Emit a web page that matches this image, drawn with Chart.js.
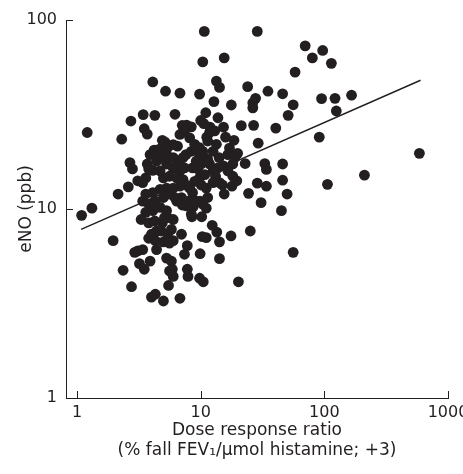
<!DOCTYPE html>
<html>
<head>
<meta charset="utf-8">
<script src="https://cdn.jsdelivr.net/npm/chart.js@4.4.0/dist/chart.umd.min.js"></script>
<style>
    html, body { margin: 0; padding: 0; background: #fff; }
</style>
</head>
<body>
<canvas id="enoScatter" width="463" height="474"></canvas>
<script>
    // dose response ratio (x) and eNO in ppb (y), one entry per subject
    var doseRatio = [
        10.7, 28.7, 70, 97, 80, 114, 58, 10.4, 15.5, 4.1, 13.4, 14.2, 5.2, 6.8, 9.8, 24, 35, 46, 27.8, 26.4,
        26.4, 12.8, 17.7, 56, 51, 95, 122, 166, 125, 91, 587, 211, 106, 56, 45, 50, 46, 46, 33, 34,
        34, 28.7, 30.8, 24.4, 25.2, 20.2, 40.5, 29.2, 26.8, 21.3, 22.9, 19.9, 18.9, 18.6, 18.2, 19.6, 17.9, 17.6, 14.2, 13.5,
        12.4, 14.2, 15.5, 10.5, 9.8, 9.9, 10.3, 11.1, 10.2, 11.1, 9.9, 8.5, 8.7, 7.8, 7.4, 7.8, 7.9, 6.8, 7.0, 5.0,
        4.0, 4.3, 5.5, 2.76, 2.36, 3.2, 3.5, 3.9, 1.96, 1.09, 1.32, 1.21, 2.15, 2.6, 2.3, 2.73, 3.43, 4.26, 6.2, 3.5,
        3.7, 2.68, 2.81, 3.1, 3.7, 7.1, 7.7, 8.4, 6.8, 6.5, 4.9, 5.15, 4.2, 4.4, 10, 10.6, 11, 13.8, 15.3, 11.9,
        13, 11.2, 13.4, 15.9, 14.1, 17.1, 16.6, 15.3, 13.8, 13.2, 14.2, 15, 12.6, 10.4, 9.8, 10.8, 9.2, 10.1, 9.5, 10.8,
        9.8, 8.95, 10.1, 8.15, 8.6, 8.0, 7.6, 7.0, 7.1, 6.4, 9.2, 8.4, 6.0, 5.4, 4.9, 5.8, 5.4, 6.0, 5.0, 5.6,
        4.0, 3.8, 4.3, 4.4, 5.3, 5.8, 5.9, 6.0, 3.4, 3.1, 3.9, 4.4, 4.8, 5.3, 6.0, 6.6, 7.2, 7.4, 6.8, 6.0,
        5.3, 4.7, 4.1, 3.6, 3.4, 5.0, 5.6, 6.4, 7.2, 7.6, 6.8, 6.0, 5.3, 4.7, 4.1, 3.6, 3.4, 3.8, 4.26, 5.0,
        5.6, 6.2, 4.7, 4.1, 3.6, 3.3, 3.8, 4.26, 5.3, 5.1, 4.4, 4.8, 3.8, 4.6, 5.0, 5.4, 6.0, 7.4, 8.15, 8.95,
        9.8, 8.4, 7.6, 12.6, 11.8, 12.6, 16.6, 18.2, 11.1, 11.4, 10.4, 11.8, 11.4, 11.4, 8.6, 2.93, 5.6
    ];
    var enoPpb = [
        87, 87, 73, 69, 63, 59, 53, 60, 63, 47, 47.5, 44, 42, 41, 40.5, 44.4, 42, 40.7, 38.5, 36.5,
        34.3, 37, 35.5, 35.6, 31.3, 38.4, 38.5, 40, 33, 24, 19.7, 15.1, 13.5, 5.9, 9.8, 12, 14.2, 17.3, 17.4, 16.2,
        13.2, 13.7, 10.8, 12.1, 7.65, 4.12, 26.8, 22.3, 27.7, 27.6, 17.4, 19.7, 18.7, 23.1, 17.3, 14.1, 13.2, 7.2, 6.7, 7.55,
        8.2, 5.46, 12, 4.12, 4.3, 5.8, 7.14, 7.05, 9.1, 10.1, 11, 9.1, 10.3, 6.4, 5.76, 4.8, 4.4, 3.37, 7.35, 3.26,
        3.42, 3.54, 3.94, 3.88, 4.74, 5.14, 4.8, 5.3, 6.8, 9.26, 10.1, 25.4, 12, 13.1, 23.4, 29.2, 31.6, 31.3, 31.7, 26.6,
        24.9, 17.6, 16.3, 14.1, 17.3, 27.7, 27.8, 27.2, 24.8, 21.5, 23.1, 22.6, 20.5, 19.5, 29.4, 28.3, 32.3, 30.4, 27.1, 27.1,
        25.9, 24, 22, 24, 18.7, 21, 19.4, 16.9, 16.5, 14.9, 13.8, 13.4, 13.8, 20.2, 19.1, 18.7, 17.9, 17.3, 16.3, 15.2,
        14.6, 14, 13.4, 12.9, 12.2, 11.0, 10.4, 11.5, 10.5, 11, 11, 9.4, 8.8, 9.0, 8.45, 7.8, 7.35, 6.8, 6.7, 6.6,
        7.35, 7.0, 6.8, 6.1, 5.5, 5.3, 4.8, 4.4, 6.1, 6.0, 19.4, 17.9, 18.7, 19.4, 18.7, 17.6, 18.7, 16.5, 15.9, 16.5,
        17.3, 15.9, 16, 14.6, 13.8, 14.6, 14.9, 14.6, 14.3, 13.4, 13.2, 12.9, 12.9, 12.7, 12.2, 12.0, 11.0, 10.6, 11.0, 11.5,
        12.0, 11.5, 10.2, 9.8, 9.6, 8.8, 8.45, 8.64, 9.8, 9.0, 7.65, 7.65, 16.3, 20.7, 21.9, 21.1, 21.9, 25.8, 23.8, 22,
        21.1, 20.2, 19.4, 20.2, 17.3, 15.9, 15.9, 14.9, 12.9, 11.5, 10.6, 25.4, 22.9, 18.3, 16.5, 5.9, 4.7
    ];

    // regression line end points
    var fitDose = [1.08, 600];
    var fitEno = [7.8, 48];

    var xTickValues = [1, 10, 100, 1000];
    var yTickValues = [1, 10, 100];

    var ink = '#231f20';
    var fontFamily = "'DejaVu Sans', 'Liberation Sans', sans-serif";

    function toPoints(xs, ys) {
        var pts = [];
        for (var i = 0; i < xs.length; i++) {
            pts.push({x: xs[i], y: ys[i]});
        }
        return pts;
    }

    // short tick marks pointing into the plot
    var innerTicks = {
        id: 'innerTicks',
        afterDraw: function (chart) {
            var ctx = chart.ctx;
            var xs = chart.scales.x;
            var ys = chart.scales.y;
            ctx.save();
            ctx.strokeStyle = ink;
            ctx.lineWidth = 1;
            ctx.beginPath();
            xTickValues.forEach(function (v) {
                var px = Math.round(xs.getPixelForValue(v)) + 0.5;
                ctx.moveTo(px, ys.bottom);
                ctx.lineTo(px, ys.bottom - 7);
            });
            yTickValues.forEach(function (v) {
                var py = Math.round(ys.getPixelForValue(v)) + 0.5;
                ctx.moveTo(xs.left, py);
                ctx.lineTo(xs.left + 7, py);
            });
            ctx.stroke();
            ctx.restore();
        }
    };

    var scatterCanvas = document.getElementById('enoScatter').getContext('2d');
    var enoChart = new Chart(scatterCanvas, {
        type: 'scatter',
        data: {
            datasets: [{
                data: toPoints(doseRatio, enoPpb),
                backgroundColor: ink,
                borderWidth: 0,
                pointRadius: 5.4,
                pointHoverRadius: 5.4
            }, {
                data: toPoints(fitDose, fitEno),
                showLine: true,
                borderColor: ink,
                borderWidth: 1.4,
                pointRadius: 0,
                fill: false
            }]
        },
        options: {
            responsive: false,
            animation: false,
            layout: {
                padding: {top: 20, right: 15, left: 0, bottom: 0}
            },
            plugins: {
                legend: {display: false},
                tooltip: {enabled: false}
            },
            scales: {
                x: {
                    type: 'logarithmic',
                    min: 0.815,
                    max: 1000,
                    grid: {display: false, drawTicks: false},
                    border: {display: true, color: ink, width: 1},
                    afterBuildTicks: function (scale) {
                        scale.ticks = xTickValues.map(function (v) { return {value: v}; });
                    },
                    afterFit: function (scale) {
                        scale.height = 76;
                        scale.paddingLeft = 0;
                        scale.paddingRight = 0;
                    },
                    ticks: {
                        autoSkip: false,
                        maxRotation: 0,
                        padding: 5,
                        color: ink,
                        font: {family: fontFamily, size: 16},
                        callback: function (v) { return String(v); }
                    },
                    title: {
                        display: true,
                        text: ['Dose response ratio', '(% fall FEV\u2081/\u03bcmol histamine; +3)'],
                        color: ink,
                        font: {family: fontFamily, size: 17, lineHeight: '20px'},
                        padding: {top: 0, bottom: 13}
                    }
                },
                y: {
                    type: 'logarithmic',
                    min: 1,
                    max: 100,
                    grid: {display: false, drawTicks: false},
                    border: {display: true, color: ink, width: 1},
                    afterBuildTicks: function (scale) {
                        scale.ticks = yTickValues.map(function (v) { return {value: v}; });
                    },
                    afterFit: function (scale) {
                        scale.width = 66;
                        scale.paddingTop = 0;
                        scale.paddingBottom = 0;
                    },
                    ticks: {
                        autoSkip: false,
                        padding: 9,
                        color: ink,
                        font: {family: fontFamily, size: 16},
                        callback: function (v) { return String(v); }
                    },
                    title: {
                        display: true,
                        text: 'eNO (ppb)',
                        color: ink,
                        font: {family: fontFamily, size: 17},
                        padding: {top: 16, bottom: 0}
                    }
                }
            }
        },
        plugins: [innerTicks]
    });
</script>
</body>
</html>
